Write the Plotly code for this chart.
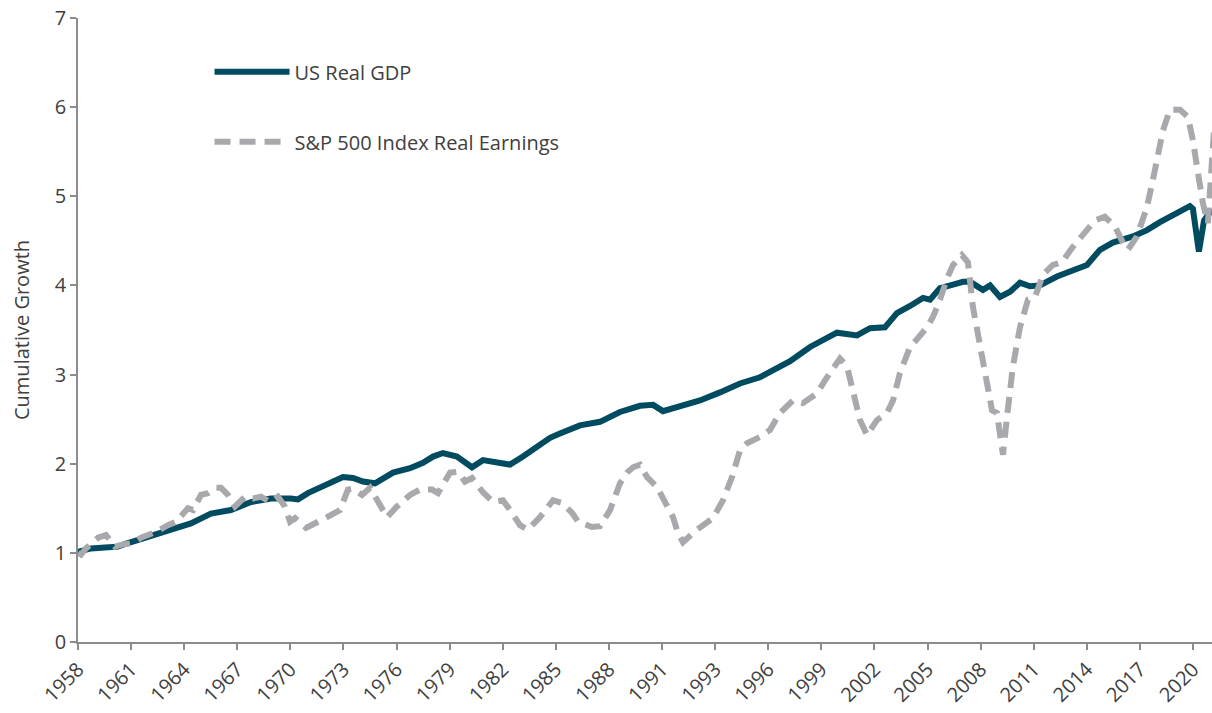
import plotly.graph_objects as go

# --- data ---
gdp_year = [1958.00, 1958.73, 1959.53, 1960.26, 1960.82, 1961.50, 1962.12, 1963.25, 1964.38,
            1965.51, 1966.64, 1967.77, 1968.90, 1970.03, 1970.43, 1970.99, 1971.56, 1971.84,
            1972.97, 1973.54, 1974.10, 1974.78, 1975.80, 1976.76, 1977.49, 1978.06, 1978.62,
            1979.41, 1979.86, 1980.26, 1980.88, 1981.67, 1982.41, 1983.14, 1984.10, 1984.67,
            1985.23, 1986.36, 1987.49, 1988.62, 1989.75, 1990.49, 1991.05, 1992.01, 1993.14,
            1994.27, 1995.40, 1996.53, 1997.27, 1998.23, 1999.36, 2000.09, 2000.88, 2002.01,
            2002.75, 2003.59, 2004.27, 2005.01, 2005.74, 2006.14, 2006.70, 2007.44, 2008.00,
            2008.40, 2009.13, 2009.53, 2010.09, 2010.66, 2011.22, 2011.79, 2012.35, 2013.31,
            2014.61, 2015.01, 2015.74, 2016.47, 2017.60, 2018.40, 2019.13, 2019.86, 2020.82,
            2020.99, 2021.33, 2021.62, 2022.07]
gdp_value = [1.01, 1.05, 1.06, 1.07, 1.11, 1.15, 1.18, 1.26, 1.33,
             1.44, 1.48, 1.57, 1.61, 1.61, 1.60, 1.67, 1.72, 1.76,
             1.85, 1.84, 1.80, 1.78, 1.90, 1.95, 2.01, 2.08, 2.12,
             2.08, 2.02, 1.96, 2.04, 2.02, 1.99, 2.08, 2.21, 2.29,
             2.34, 2.43, 2.47, 2.58, 2.65, 2.66, 2.59, 2.64, 2.71,
             2.80, 2.90, 2.97, 3.05, 3.15, 3.31, 3.39, 3.47, 3.44,
             3.52, 3.53, 3.69, 3.77, 3.86, 3.84, 3.97, 4.01, 4.04,
             4.04, 3.95, 4.00, 3.87, 3.93, 4.03, 3.99, 4.00, 4.10,
             4.21, 4.23, 4.40, 4.48, 4.55, 4.62, 4.71, 4.79, 4.89,
             4.86, 4.38, 4.73, 4.85]

eps_year = [1958.00, 1958.17, 1958.45, 1959.13, 1959.58, 1960.09, 1960.43, 1961.11, 1961.56,
            1962.35, 1963.08, 1963.54, 1964.21, 1964.50, 1964.95, 1965.34, 1965.80, 1966.08,
            1966.47, 1966.87, 1967.44, 1967.89, 1968.34, 1968.85, 1969.30, 1969.69, 1969.98,
            1970.26, 1970.88, 1971.45, 1972.07, 1972.80, 1973.25, 1973.54, 1974.05, 1974.50,
            1974.78, 1975.18, 1975.46, 1976.02, 1976.76, 1977.32, 1978.00, 1978.34, 1979.02,
            1979.47, 1979.86, 1980.26, 1980.88, 1981.45, 1982.01, 1982.41, 1982.97, 1983.42,
            1984.10, 1984.84, 1985.34, 1985.91, 1986.25, 1987.04, 1987.49, 1988.06, 1988.62,
            1989.02, 1989.36, 1989.75, 1990.15, 1990.71, 1991.16, 1991.62, 1991.90, 1992.18,
            1992.97, 1993.88, 1994.44, 1994.95, 1995.40, 1995.80, 1996.53, 1997.10, 1997.66,
            1998.40, 1998.96, 1999.75, 2000.32, 2001.05, 2001.45, 2001.79, 2002.18, 2002.58,
            2003.14, 2003.71, 2004.05, 2004.44, 2005.01, 2005.46, 2005.97, 2006.31, 2006.70,
            2007.10, 2007.44, 2007.94, 2008.28, 2008.56, 2008.96, 2009.36, 2009.64, 2009.92,
            2010.09, 2010.26, 2010.49, 2010.82, 2011.22, 2011.67, 2012.07, 2012.52, 2013.08,
            2013.59, 2014.16, 2015.01, 2015.46, 2016.02, 2016.59, 2017.04, 2017.32, 2017.83,
            2018.40, 2018.85, 2019.30, 2019.69, 2020.26, 2020.71, 2020.99, 2021.28, 2021.56,
            2021.84, 2022.01, 2022.18]
eps_value = [1.00, 0.98, 1.05, 1.17, 1.20, 1.07, 1.09, 1.11, 1.17,
             1.23, 1.31, 1.35, 1.50, 1.48, 1.65, 1.67, 1.73, 1.73,
             1.65, 1.52, 1.63, 1.61, 1.63, 1.57, 1.63, 1.52, 1.35,
             1.39, 1.28, 1.33, 1.40, 1.48, 1.71, 1.72, 1.65, 1.73,
             1.63, 1.48, 1.40, 1.52, 1.65, 1.71, 1.71, 1.67, 1.90,
             1.91, 1.80, 1.84, 1.68, 1.57, 1.59, 1.48, 1.31, 1.26,
             1.40, 1.59, 1.56, 1.45, 1.35, 1.29, 1.30, 1.48, 1.78,
             1.90, 1.96, 1.99, 1.85, 1.74, 1.56, 1.40, 1.22, 1.12,
             1.26, 1.39, 1.59, 1.85, 2.15, 2.23, 2.30, 2.38, 2.57,
             2.71, 2.68, 2.79, 2.97, 3.18, 3.09, 2.83, 2.49, 2.32,
             2.49, 2.57, 2.71, 3.02, 3.31, 3.41, 3.53, 3.65, 3.84,
             4.08, 4.23, 4.34, 4.26, 3.76, 3.35, 2.86, 2.60, 2.57,
             2.34, 2.10, 2.53, 3.09, 3.53, 3.84, 3.87, 4.12, 4.23,
             4.26, 4.42, 4.62, 4.73, 4.77, 4.66, 4.48, 4.40, 4.55,
             4.88, 5.30, 5.74, 5.97, 5.97, 5.89, 5.63, 5.26, 4.92,
             4.70, 5.18, 5.74]

tick_pos = [1958 + 3 * i for i in range(22)]
tick_labels = ['1958', '1961', '1964', '1967', '1970', '1973', '1976', '1979', '1982',
               '1985', '1988', '1991', '1993', '1996', '1999', '2002', '2005', '2008',
               '2011', '2014', '2017', '2020']

GDP_COLOR = '#004B5F'
EPS_COLOR = '#A7A9AC'
TEXT = '#404040'
AXIS = '#8C8C8C'
FONT = '"Open Sans", Roboto, Arial, sans-serif'
FS = 20

fig = go.Figure()
fig.add_trace(go.Scatter(x=gdp_year, y=gdp_value, mode='lines', name='US Real GDP',
                         legendgroup='a',
                         line=dict(color=GDP_COLOR, width=6)))
fig.add_trace(go.Scatter(x=eps_year, y=eps_value, mode='lines',
                         name='S&P 500 Index Real Earnings', legendgroup='b',
                         line=dict(color=EPS_COLOR, width=6, dash='16px,9px')))

fig.update_layout(
    width=1212, height=713,
    margin=dict(l=78, r=0, t=18, b=71),
    paper_bgcolor='white', plot_bgcolor='white',
    font=dict(family=FONT, size=FS, color=TEXT),
    legend=dict(x=0.116, y=0.945, xanchor='left', yanchor='top',
                itemwidth=75, tracegroupgap=41,
                bgcolor='rgba(0,0,0,0)', font=dict(size=FS, color=TEXT)),
    xaxis=dict(range=[1958, 2022.07], tickvals=tick_pos, ticktext=tick_labels,
               tickangle=-45, showgrid=False, zeroline=False,
               showline=True, linecolor=AXIS, linewidth=1.5,
               ticks='outside', ticklen=6, tickcolor=AXIS, tickwidth=1.5,
               automargin=False, tickfont=dict(size=FS, color=TEXT)),
    yaxis=dict(range=[0, 7], dtick=1, showgrid=False, zeroline=False,
               showline=True, linecolor=AXIS, linewidth=1.5,
               ticks='outside', ticklen=6, tickcolor=AXIS, tickwidth=1.5,
               automargin=False, tickfont=dict(size=FS, color=TEXT),
               title=dict(text='Cumulative Growth', standoff=20,
                          font=dict(size=FS, color=TEXT))),
)

# drop the page's default body margin so the figure sits at the window's corner
fig.write_html("out.html", config={'displayModeBar': False},
               post_script="document.body.style.margin='0';")
